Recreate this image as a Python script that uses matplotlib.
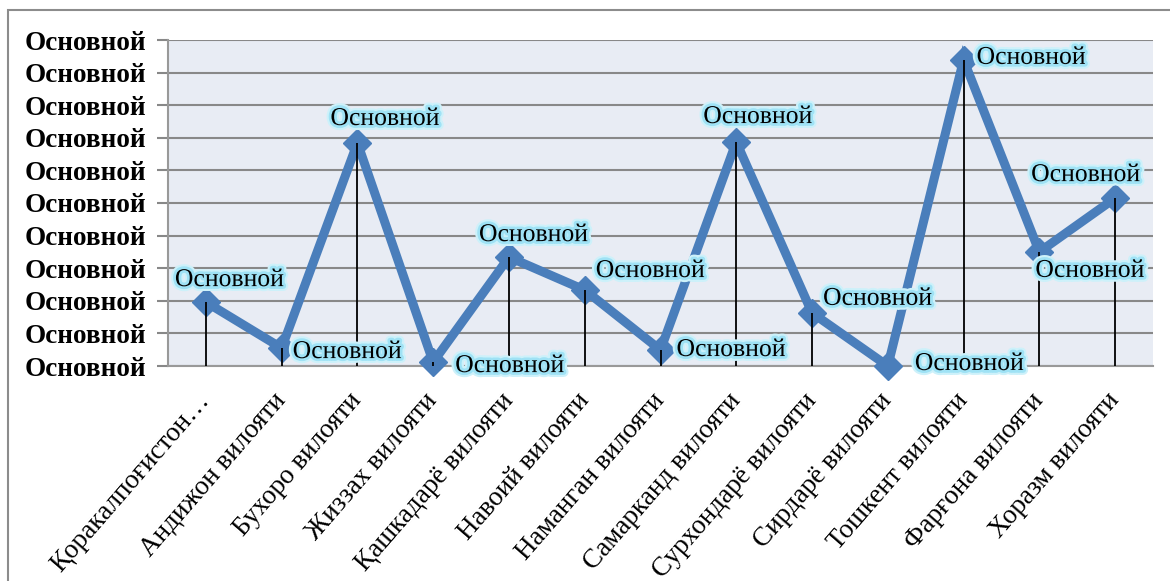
import matplotlib
matplotlib.use("Agg")
from matplotlib import pyplot as plt
import matplotlib.patheffects as pe
from matplotlib.patches import Rectangle
import numpy as np

# regions and values
regions = ["Қоракалпоғистон…", "Андижон вилояти", "Бухоро вилояти", "Жиззах вилояти",
           "Қашкадарё вилояти", "Навоий вилояти", "Наманган вилояти", "Самарканд вилояти",
           "Сурхондарё вилояти", "Сирдарё вилояти", "Тошкент вилояти", "Фарғона вилояти",
           "Хоразм вилояти"]
values = [1.96, 0.55, 6.84, 0.12, 3.34, 2.33, 0.49, 6.87, 1.63, 0.0, 9.39, 3.5, 5.15]
y_ticks = list(range(0, 11))
y_tick_labels = ["Основной"] * len(y_ticks)
point_label = "Основной"
# label offsets in pixels (left edge of text, vertical centre) from each point
label_offsets = [(-31, 22), (11, -4), (-27, 24), (22, -4), (-30, 22), (11, 19),
                 (16, 0), (-33, 25), (11, 14), (27, 2), (13, 2), (-4, -19), (-84, 23)]

plt.rcParams['font.family'] = 'serif'
plt.rcParams['font.serif'] = ['Liberation Serif', 'DejaVu Serif']

fig = plt.figure(figsize=(11.7, 5.81), dpi=100)
ax = fig.add_axes([168/1170, 1-366/581, (1153-168)/1170, (366-40)/581])
ax.set_facecolor('#E8ECF4')

x = np.arange(len(regions))
ax.plot(x, values, color='#4A7EBB', linewidth=6.5, marker='D', markersize=14,
        markerfacecolor='#4A7EBB', markeredgecolor='#4A7EBB', zorder=3,
        solid_joinstyle='miter', clip_on=False)
ax.vlines(x, 0, values, color='black', linewidth=1.3, zorder=4)

glow = [pe.withStroke(linewidth=7, foreground='#CDF1FA'),
        pe.withStroke(linewidth=4, foreground='#9FE2F5')]
for xi, v, (dx, dy) in zip(x, values, label_offsets):
    ax.annotate(point_label, xy=(xi, v), xytext=(dx, dy), textcoords='offset pixels',
                ha='left', va='center', fontsize=18.5, color='black',
                path_effects=glow, zorder=5, annotation_clip=False)

ax.set_xlim(-0.5, len(regions) - 0.5)
ax.set_ylim(0, 10)
ax.set_yticks(y_ticks)
ax.set_yticklabels(y_tick_labels, fontsize=19.5, fontweight='bold')
ax.set_xticks(x)
ax.set_xticklabels(regions, rotation=49, ha='right', va='center',
                   rotation_mode='anchor', fontsize=19.5)
ax.tick_params(axis='x', length=0, pad=22)
ax.tick_params(axis='y', length=8, width=1.5, color='#888888', pad=8)
ax.grid(axis='y', color='#888888', linewidth=1.5)
ax.set_axisbelow(True)
for s in ['top', 'right']:
    ax.spines[s].set_visible(False)
for s in ['left', 'bottom']:
    ax.spines[s].set_color('#999999')
    ax.spines[s].set_linewidth(1.5)

# outer chart border
fig.patches.append(Rectangle((8/1170, -0.1), 1.2, 1 - 10/581 + 0.1, transform=fig.transFigure,
                             fill=False, edgecolor='#8C8C8C', linewidth=1.5))

fig.savefig('out.png', dpi=100)
